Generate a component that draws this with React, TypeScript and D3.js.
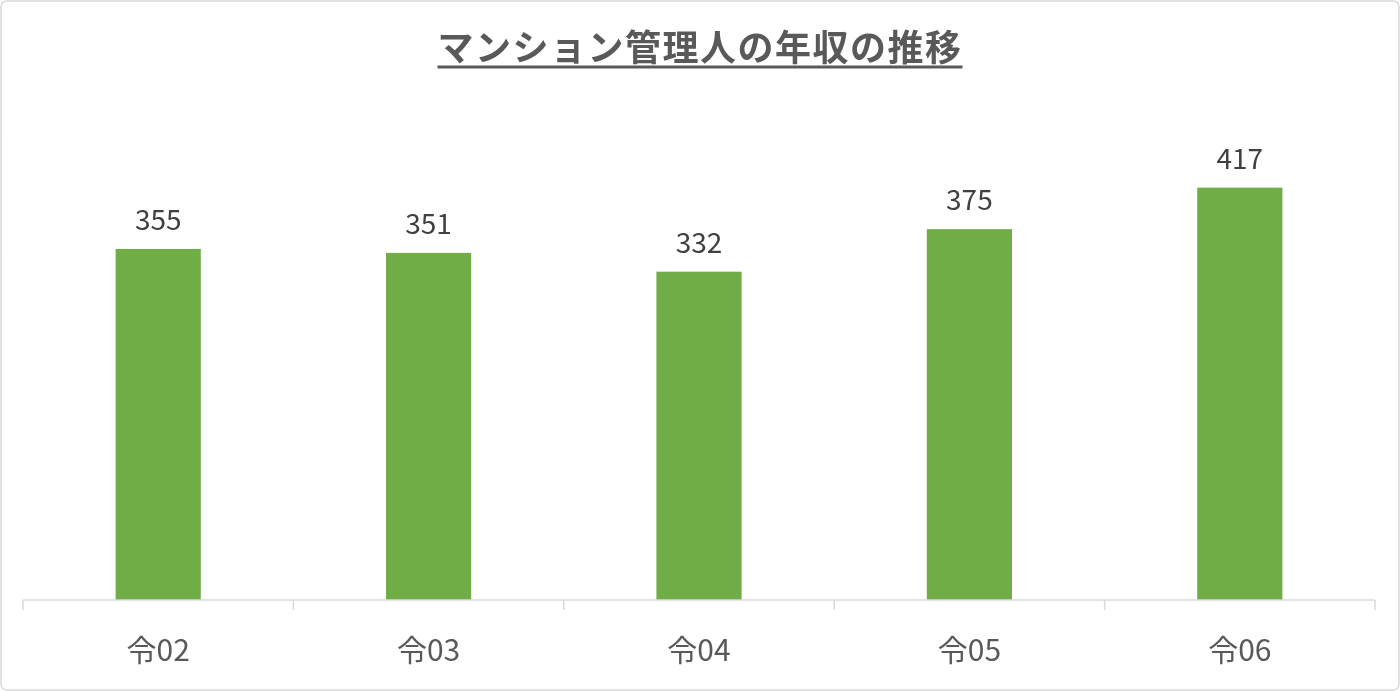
import { useEffect, useRef } from "react";
import * as d3 from "d3";

const width = 1400;
const height = 691;

const categories = ["令02", "令03", "令04", "令05", "令06"];
const incomes = [355, 351, 332, 375, 417];
const chartTitle = "マンション管理人の年収の推移";

const margin = { top: 155, right: 25, bottom: 91, left: 23 };
const font = "'Noto Sans CJK JP', 'Noto Sans', sans-serif";

export default function App() {
  const svgRef = useRef<SVGSVGElement | null>(null);

  useEffect(() => {
    if (!svgRef.current) return;
    const svg = d3.select(svgRef.current);

    const x = d3
      .scaleBand()
      .domain(categories)
      .range([margin.left, width - margin.right])
      .paddingInner(0.685)
      .paddingOuter(0.3425);

    const y = d3
      .scaleLinear()
      .domain([0, 450])
      .range([height - margin.bottom, margin.top]);

    const data = categories.map((c, i) => ({ c, v: incomes[i] }));

    // bars
    svg
      .select(".bars")
      .selectAll("rect")
      .data(data)
      .join("rect")
      .attr("x", (d) => x(d.c) ?? 0)
      .attr("y", (d) => y(d.v))
      .attr("width", x.bandwidth())
      .attr("height", (d) => y(0) - y(d.v))
      .attr("fill", "#70ad47");

    // value labels
    svg
      .select(".labels")
      .selectAll("text")
      .data(data)
      .join("text")
      .attr("x", (d) => (x(d.c) ?? 0) + x.bandwidth() / 2)
      .attr("y", (d) => y(d.v) - 19)
      .attr("text-anchor", "middle")
      .attr("fill", "#404040")
      .style("font-family", font)
      .style("font-size", "28px")
      .text((d) => d.v);

    // x axis: line + category boundary ticks
    const step = x.step();
    const bounds = d3.range(categories.length + 1).map((i) => margin.left + i * step);
    const axis = svg.select(".x-axis");
    axis
      .selectAll("line.base")
      .data([0])
      .join("line")
      .attr("class", "base")
      .attr("x1", margin.left)
      .attr("x2", width - margin.right)
      .attr("y1", y(0))
      .attr("y2", y(0))
      .attr("stroke", "#d9d9d9")
      .attr("stroke-width", 1.5);
    axis
      .selectAll("line.tick")
      .data(bounds)
      .join("line")
      .attr("class", "tick")
      .attr("x1", (d) => d)
      .attr("x2", (d) => d)
      .attr("y1", y(0))
      .attr("y2", y(0) + 10)
      .attr("stroke", "#d9d9d9")
      .attr("stroke-width", 1.5);
    axis
      .selectAll("text")
      .data(categories)
      .join("text")
      .attr("x", (d) => (x(d) ?? 0) + x.bandwidth() / 2)
      .attr("y", 661)
      .attr("text-anchor", "middle")
      .attr("fill", "#595959")
      .style("font-family", font)
      .style("font-size", "30px")
      .text((d) => d);

    // title
    const title = svg
      .select(".title")
      .attr("x", width / 2)
      .attr("y", 61)
      .attr("text-anchor", "middle")
      .attr("fill", "#595959")
      .style("font-family", font)
      .style("font-size", "36px")
      .style("font-weight", "700")
      .style("letter-spacing", "1.5px")
      .text(chartTitle);
    const bb = (title.node() as SVGTextElement).getBBox();
    svg
      .select(".title-underline")
      .attr("x1", bb.x)
      .attr("x2", bb.x + bb.width)
      .attr("y1", 67)
      .attr("y2", 67)
      .attr("stroke", "#595959")
      .attr("stroke-width", 3);
  }, []);

  return (
    <div style={{ position: "fixed", left: 0, top: 0 }}>
      <svg ref={svgRef} width={width} height={height} style={{ display: "block" }}>
        <rect
          x={1}
          y={1}
          width={width - 2}
          height={height - 2}
          rx={6}
          fill="#ffffff"
          stroke="#d9d9d9"
          strokeWidth={1.5}
        />
        <g className="bars" />
        <g className="labels" />
        <g className="x-axis" />
        <text className="title" />
        <line className="title-underline" />
      </svg>
    </div>
  );
}
